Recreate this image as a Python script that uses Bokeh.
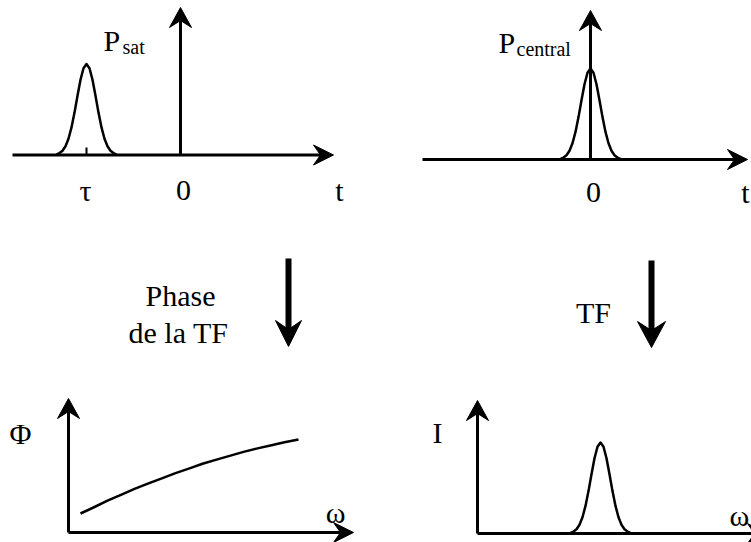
from bokeh.plotting import figure
from bokeh.models import Range1d
from bokeh.core.properties import value
from bokeh.embed import file_html
from bokeh.resources import INLINE

# ---- data (in reference pixel units) ----
# shape of the short pulse: offsets from centre and heights above baseline
pulse_dx = [-30, -27, -24, -21, -18, -15, -12, -9, -6, -3, 0, 3, 6, 9, 12, 15, 18, 21, 24, 27, 30]
pulse_h = [0.7, 1.9, 4.3, 8.7, 16.3, 27.6, 42.4, 59.2, 75.2, 86.7, 91,
           86.7, 75.2, 59.2, 42.4, 27.6, 16.3, 8.7, 4.3, 1.9, 0.7]
# phase of the Fourier transform versus omega (height above the omega axis)
phase_w = [80, 94, 107, 121, 134, 148, 162, 175, 189, 202, 216, 230, 243, 257, 271, 284, 298]
phase_v = [19, 25.5, 31.8, 37.8, 43.6, 49.1, 54.4, 59.4, 64.1, 68.7, 72.9, 76.9,
           80.6, 84.1, 87.3, 90.3, 93]

# ---- layout (reference pixels, y downward) ----
FONT = value("Liberation Serif")
W, H = 751, 542
p = figure(width=W, height=H, output_backend="svg", toolbar_location=None,
           x_range=Range1d(0, W), y_range=Range1d(H, 0),
           x_axis_type=None, y_axis_type=None, min_border=0)
p.outline_line_color = None
p.xgrid.visible = False
p.ygrid.visible = False
p.background_fill_color = "white"
p.border_fill_color = "white"


def head(tx, ty, dx, dy, length, half, notch):
    # polygon of a barbed arrowhead pointing in direction (dx, dy)
    px, py = -dy, dx
    bx, by = tx - dx * length, ty - dy * length
    nx, ny = tx - dx * notch, ty - dy * notch
    xs = [tx, bx + px * half, nx, bx - px * half]
    ys = [ty, by + py * half, ny, by - py * half]
    return xs, ys


def arrow(x0, y0, x1, y1, lw=3, length=20, half=10, notch=13):
    L = ((x1 - x0) ** 2 + (y1 - y0) ** 2) ** 0.5
    dx, dy = (x1 - x0) / L, (y1 - y0) / L
    p.line([x0, x1 - dx * notch], [y0, y1 - dy * notch], line_width=lw, color="black")
    xs, ys = head(x1, y1, dx, dy, length, half, notch)
    p.patch(xs, ys, color="black", line_width=1, line_join="miter")


def pulse(cx, base):
    p.line([cx + d for d in pulse_dx], [base - h for h in pulse_h],
           line_width=2.5, color="black", line_join="round")


def label(x, y, t, size="30px", align="center"):
    p.text(x=[x], y=[y], text=[t], text_font=FONT, text_font_size=size,
           text_align=align, text_baseline="alphabetic", text_color="black")


# top-left panel
arrow(12, 154.5, 333, 154.5)
arrow(180, 154.5, 180, 7, half=11)
pulse(86, 154.5)
p.line([86, 86], [147, 154.5], line_width=2, color="black")
label(103, 40, "P", align="left")
label(122, 46, "sat", size="20px", align="left")
label(85, 190, "τ")
label(183, 190, "0")
label(339, 190, "t")

# top-right panel
arrow(422, 159, 747, 159)
arrow(590, 159, 590, 10, half=11)
pulse(590, 159)
label(498, 42, "P", align="left")
label(516, 48, "central", size="20px", align="left")
label(593, 192, "0")
label(745, 192, "t")

# transition arrows
arrow(288, 258, 288, 346, lw=6, length=26, half=13, notch=17)
label(180, 295, "Phase")
label(178, 332, "de la TF")
arrow(651, 260, 651, 347, lw=6, length=26, half=14, notch=17)
label(593, 312, "TF")

# bottom-left panel
arrow(68, 532, 68, 398, half=11)
arrow(68, 532, 353, 532)
p.line(phase_w, [532 - v for v in phase_v], line_width=2.5, color="black",
       line_join="round")
label(20, 433, "Φ")
label(335, 512, "ω")

# bottom-right panel
arrow(477, 533, 477, 400, half=11)
arrow(477, 533, 767, 533)
p.line([600 + d for d in pulse_dx], [533 - h for h in pulse_h],
       line_width=2.5, color="black", line_join="round")
label(437, 432, "I")
label(729, 515, "ω", align="left")

open("out.html", "w").write(file_html(p, INLINE))
